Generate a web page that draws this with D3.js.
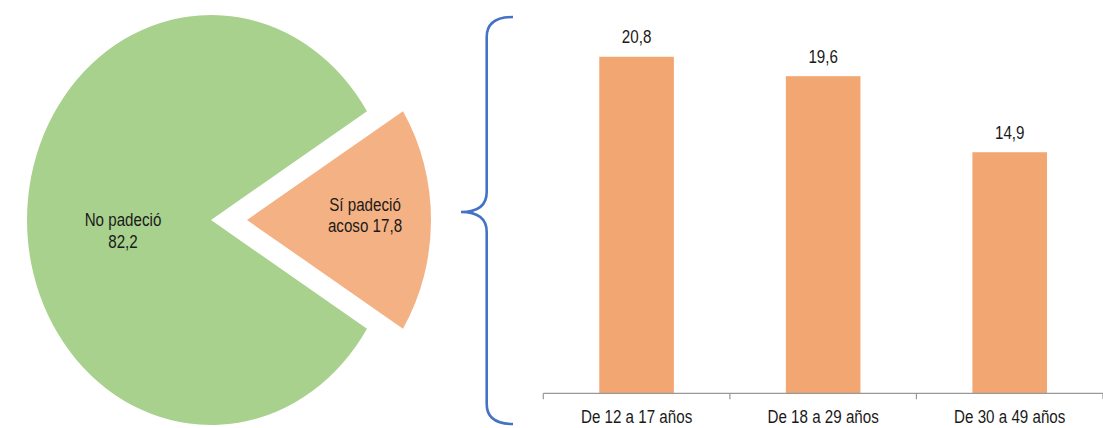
<!DOCTYPE html>
<html>
<head>
<meta charset="utf-8">
<script src="https://cdn.jsdelivr.net/npm/d3@7"></script>
<style>
  html, body { margin: 0; padding: 0; background: #fff; }
  svg text { font-family: "Liberation Sans", Arial, sans-serif; fill: #1a1a1a; }
</style>
</head>
<body>
<svg id="chart" width="1103" height="428"></svg>
<script>
// ---- data ----
const pieLabels = ["No padeció", "Sí padeció acoso"];
const pieValues = [82.2, 17.8];
const barCategories = ["De 12 a 17 años", "De 18 a 29 años", "De 30 a 49 años"];
const barValues = [20.8, 19.6, 14.9];

const fmt = v => String(v.toFixed(1)).replace(".", ",");
const NARROW = 0.82, FS = 18.5;

const svg = d3.select("#chart");

// narrow text helper: lines drawn at (x, y0), (x, y0+dy), ...
function narrowText(parent, x, y0, lines, dy) {
  const t = parent.append("text")
    .attr("text-anchor", "middle")
    .attr("font-size", FS)
    .attr("transform", `translate(${x},0) scale(${NARROW},1)`);
  lines.forEach((l, i) => t.append("tspan").attr("x", 0).attr("y", y0 + i * (dy || 0)).text(l));
  return t;
}

// ---- pie ----
const cx = 211, cy = 220, ry = 205, rx = 184;
const sx = rx / ry;
const explode = 36;
const orangeFrac = pieValues[1] / d3.sum(pieValues);
const pie = d3.pie().sort(null).value(d => d)
  .startAngle(Math.PI / 2 + orangeFrac * Math.PI)
  .endAngle(Math.PI / 2 + orangeFrac * Math.PI + 2 * Math.PI);
const arcs = pie(pieValues);
const arc = d3.arc().innerRadius(0).outerRadius(ry);
const pieColors = ["#A9D18E", "#F4B183"];

arcs.forEach((a, i) => {
  const mid = (a.startAngle + a.endAngle) / 2;
  const off = i === 1 ? explode : 0;
  const dx = off * Math.sin(mid), dy = -off * Math.cos(mid);
  svg.append("g")
    .attr("transform", `translate(${cx + dx},${cy + dy}) scale(${sx},1)`)
    .append("path")
    .attr("d", arc(a))
    .attr("fill", pieColors[i]);
});

// pie labels
narrowText(svg, 123, 225.7, [pieLabels[0], fmt(pieValues[0])], 22.6);
narrowText(svg, 365, 210.7, ["Sí padeció", "acoso " + fmt(pieValues[1])], 21);

// ---- brace ----
const bx = 486.7, tipX = 461, tipY = 212, endX = 513, topY = 17, botY = 424;
const brace = d3.path();
brace.moveTo(endX, topY);
brace.quadraticCurveTo(bx, topY, bx, topY + 20);
brace.lineTo(bx, tipY - 20);
brace.quadraticCurveTo(bx, tipY, tipX, tipY);
brace.quadraticCurveTo(bx, tipY, bx, tipY + 20);
brace.lineTo(bx, botY - 20);
brace.quadraticCurveTo(bx, botY, endX, botY);
svg.append("path").attr("d", brace.toString())
  .attr("fill", "none").attr("stroke", "#4472C4").attr("stroke-width", 2.6);

// ---- bars ----
const x = d3.scaleBand().domain(barCategories).range([543.3, 1103]).padding(0);
const y = d3.scaleLinear().domain([0, 24]).range([393.3, 5.0]);
const bw = x.bandwidth() * 0.4;

svg.selectAll("rect.bar").data(barValues).join("rect")
  .attr("class", "bar")
  .attr("x", (d, i) => x(barCategories[i]) + (x.bandwidth() - bw) / 2)
  .attr("y", d => y(d))
  .attr("width", bw)
  .attr("height", d => y(0) - y(d))
  .attr("fill", "#F2A772");

barValues.forEach((d, i) => {
  narrowText(svg, x(barCategories[i]) + x.bandwidth() / 2, y(d) - 13.5, [fmt(d)]);
});

// axis
const axisG = svg.append("g");
axisG.append("line")
  .attr("x1", x.range()[0]).attr("x2", x.range()[1])
  .attr("y1", y(0)).attr("y2", y(0))
  .attr("stroke", "#999").attr("stroke-width", 1.2);
const edges = barCategories.map(c => x(c)).concat([x.range()[1]]);
axisG.selectAll("line.tick").data(edges).join("line")
  .attr("class", "tick")
  .attr("x1", d => d).attr("x2", d => d)
  .attr("y1", y(0)).attr("y2", y(0) + 6)
  .attr("stroke", "#999").attr("stroke-width", 1.2);
barCategories.forEach(c => {
  narrowText(axisG, x(c) + x.bandwidth() / 2, 423.3, [c]);
});
</script>
</body>
</html>
